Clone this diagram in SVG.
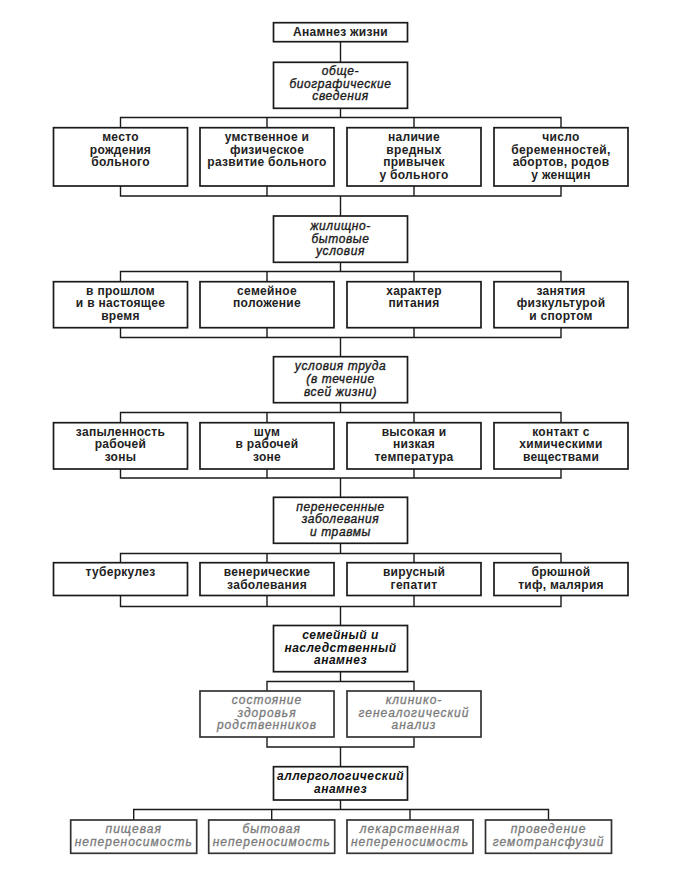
<svg xmlns="http://www.w3.org/2000/svg" width="700" height="871" viewBox="0 0 700 871">
<style>
rect{fill:#fff;stroke:#1a1a1a;stroke-width:1.7}
.c path{fill:none;stroke:#1a1a1a;stroke-width:1.4}
text{font-family:"Liberation Sans",Arial,sans-serif;font-size:12px;text-anchor:middle}
.b{font-weight:bold;fill:#222;letter-spacing:0.3px}
.h{font-style:italic;fill:#1a1a1a;letter-spacing:0.6px;stroke:#1a1a1a;stroke-width:0.35px}
.hb{font-style:italic;font-weight:bold;fill:#111;letter-spacing:0.5px}
.g{font-style:italic;fill:#7a7a7a;letter-spacing:1px}
.g text{stroke:#7a7a7a;stroke-width:0.3px}
.g rect{stroke:#333}
</style>
<rect width="700" height="871" style="fill:#fff;stroke:none"/>
<g class="c">
<path d="M340.5 41.7V62.3"/>
<path d="M340.5 108.3V117.5M120.5 127.7V117.5H561V127.7M267 117.5V127.7M414 117.5V127.7"/>
<path d="M120.5 186V196H561V186M267 186V196M414 186V196M340.5 196V216"/>
<path d="M340.5 262.3V271.5M120.5 281.7V271.5H561V281.7M267 271.5V281.7M414 271.5V281.7"/>
<path d="M120.5 327.7V337.5H561V327.7M267 327.7V337.5M414 327.7V337.5M340.5 337.5V356.7"/>
<path d="M340.5 402.7V412.5M120.5 422.7V412.5H561V422.7M267 412.5V422.7M414 412.5V422.7"/>
<path d="M120.5 469V478H561V469M267 469V478M414 469V478M340.5 478V497.3"/>
<path d="M340.5 543.3V553.5M120.5 562.7V553.5H561V562.7M267 553.5V562.7M414 553.5V562.7"/>
<path d="M120.5 595.5V606.5H561V595.5M267 595.5V606.5M414 595.5V606.5M340.5 606.5V625.5"/>
<path d="M340.5 671.7V681.5M267 691V681.5H414V691"/>
<path d="M267 737V747H414V737M340.5 747V766.7"/>
<path d="M340.5 800V809.5M133.7 820V809.5H548.5V820M271.7 809.5V820M410 809.5V820"/>
</g>
<g id="n-root"><rect x="273.5" y="22.7" width="134" height="19"/><text class="b" x="340.5" y="36.2">Анамнез жизни</text></g>
<g id="n-bio"><rect x="273.5" y="62.3" width="134" height="46"/><text class="h" x="340.5" y="75.2">обще-</text><text class="h" x="340.5" y="87.7">биографические</text><text class="h" x="340.5" y="100.2">сведения</text></g>
<g id="n-r1a"><rect x="53.5" y="127.7" width="134" height="58.3"/><text class="b" x="120.5" y="140.8">место</text><text class="b" x="120.5" y="153.6">рождения</text><text class="b" x="120.5" y="166.4">больного</text></g>
<g id="n-r1b"><rect x="200" y="127.7" width="134" height="58.3"/><text class="b" x="267" y="140.8">умственное и</text><text class="b" x="267" y="153.6">физическое</text><text class="b" x="267" y="166.4">развитие больного</text></g>
<g id="n-r1c"><rect x="347" y="127.7" width="134" height="58.3"/><text class="b" x="414" y="140.8">наличие</text><text class="b" x="414" y="153.6">вредных</text><text class="b" x="414" y="166.4">привычек</text><text class="b" x="414" y="179.2">у больного</text></g>
<g id="n-r1d"><rect x="494" y="127.7" width="134" height="58.3"/><text class="b" x="561" y="140.8">число</text><text class="b" x="561" y="153.6">беременностей,</text><text class="b" x="561" y="166.4">абортов, родов</text><text class="b" x="561" y="179.2">у женщин</text></g>
<g id="n-home"><rect x="273.5" y="216" width="134" height="46.3"/><text class="h" x="340.5" y="230">жилищно-</text><text class="h" x="340.5" y="242.5">бытовые</text><text class="h" x="340.5" y="255">условия</text></g>
<g id="n-r2a"><rect x="53.5" y="281.7" width="134" height="46"/><text class="b" x="120.5" y="294.5">в прошлом</text><text class="b" x="120.5" y="307.2">и в настоящее</text><text class="b" x="120.5" y="319.9">время</text></g>
<g id="n-r2b"><rect x="200" y="281.7" width="134" height="46"/><text class="b" x="267" y="294.5">семейное</text><text class="b" x="267" y="307.2">положение</text></g>
<g id="n-r2c"><rect x="347" y="281.7" width="134" height="46"/><text class="b" x="414" y="294.5">характер</text><text class="b" x="414" y="307.2">питания</text></g>
<g id="n-r2d"><rect x="494" y="281.7" width="134" height="46"/><text class="b" x="561" y="294.5">занятия</text><text class="b" x="561" y="307.2">физкультурой</text><text class="b" x="561" y="319.9">и спортом</text></g>
<g id="n-work"><rect x="273.5" y="356.7" width="134" height="46"/><text class="h" x="340.5" y="369.5">условия труда</text><text class="h" x="340.5" y="382.5">(в течение</text><text class="h" x="340.5" y="395.5">всей жизни)</text></g>
<g id="n-r3a"><rect x="53.5" y="422.7" width="134" height="46.3"/><text class="b" x="120.5" y="435.7">запыленность</text><text class="b" x="120.5" y="448.4">рабочей</text><text class="b" x="120.5" y="461.1">зоны</text></g>
<g id="n-r3b"><rect x="200" y="422.7" width="134" height="46.3"/><text class="b" x="267" y="435.7">шум</text><text class="b" x="267" y="448.4">в рабочей</text><text class="b" x="267" y="461.1">зоне</text></g>
<g id="n-r3c"><rect x="347" y="422.7" width="134" height="46.3"/><text class="b" x="414" y="435.7">высокая и</text><text class="b" x="414" y="448.4">низкая</text><text class="b" x="414" y="461.1">температура</text></g>
<g id="n-r3d"><rect x="494" y="422.7" width="134" height="46.3"/><text class="b" x="561" y="435.7">контакт с</text><text class="b" x="561" y="448.4">химическими</text><text class="b" x="561" y="461.1">веществами</text></g>
<g id="n-ill"><rect x="273.5" y="497.3" width="134" height="46"/><text class="h" x="340.5" y="510.5">перенесенные</text><text class="h" x="340.5" y="523.3">заболевания</text><text class="h" x="340.5" y="536.3">и травмы</text></g>
<g id="n-r4a"><rect x="53.5" y="562.7" width="134" height="32.8"/><text class="b" x="120.5" y="576">туберкулез</text></g>
<g id="n-r4b"><rect x="200" y="562.7" width="134" height="32.8"/><text class="b" x="267" y="576">венерические</text><text class="b" x="267" y="588.7">заболевания</text></g>
<g id="n-r4c"><rect x="347" y="562.7" width="134" height="32.8"/><text class="b" x="414" y="576">вирусный</text><text class="b" x="414" y="588.7">гепатит</text></g>
<g id="n-r4d"><rect x="494" y="562.7" width="134" height="32.8"/><text class="b" x="561" y="576">брюшной</text><text class="b" x="561" y="588.7">тиф, малярия</text></g>
<g id="n-family"><rect x="273.5" y="625.5" width="134" height="46.2"/><text class="hb" x="340.5" y="639">семейный и</text><text class="hb" x="340.5" y="651.5">наследственный</text><text class="hb" x="340.5" y="664">анамнез</text></g>
<g id="n-r5a" class="g"><rect x="200" y="691" width="134" height="46"/><text x="267" y="704.2">состояние</text><text x="267" y="716.7">здоровья</text><text x="267" y="729.2">родственников</text></g>
<g id="n-r5b" class="g"><rect x="347" y="691" width="134" height="46"/><text x="414" y="704.2">клинико-</text><text x="414" y="716.7">генеалогический</text><text x="414" y="729.2">анализ</text></g>
<g id="n-allergy"><rect x="273.5" y="766.7" width="134" height="33.3"/><text class="hb" x="340.5" y="780">аллергологический</text><text class="hb" x="340.5" y="792.5">анамнез</text></g>
<g id="n-r6a" class="g"><rect x="70.7" y="820" width="126" height="33.3"/><text x="133.7" y="833">пищевая</text><text x="133.7" y="845.5">непереносимость</text></g>
<g id="n-r6b" class="g"><rect x="208.7" y="820" width="126" height="33.3"/><text x="271.7" y="833">бытовая</text><text x="271.7" y="845.5">непереносимость</text></g>
<g id="n-r6c" class="g"><rect x="347" y="820" width="126" height="33.3"/><text x="410" y="833">лекарственная</text><text x="410" y="845.5">непереносимость</text></g>
<g id="n-r6d" class="g"><rect x="485.5" y="820" width="126" height="33.3"/><text x="548.5" y="833">проведение</text><text x="548.5" y="845.5">гемотрансфузий</text></g>
</svg>
